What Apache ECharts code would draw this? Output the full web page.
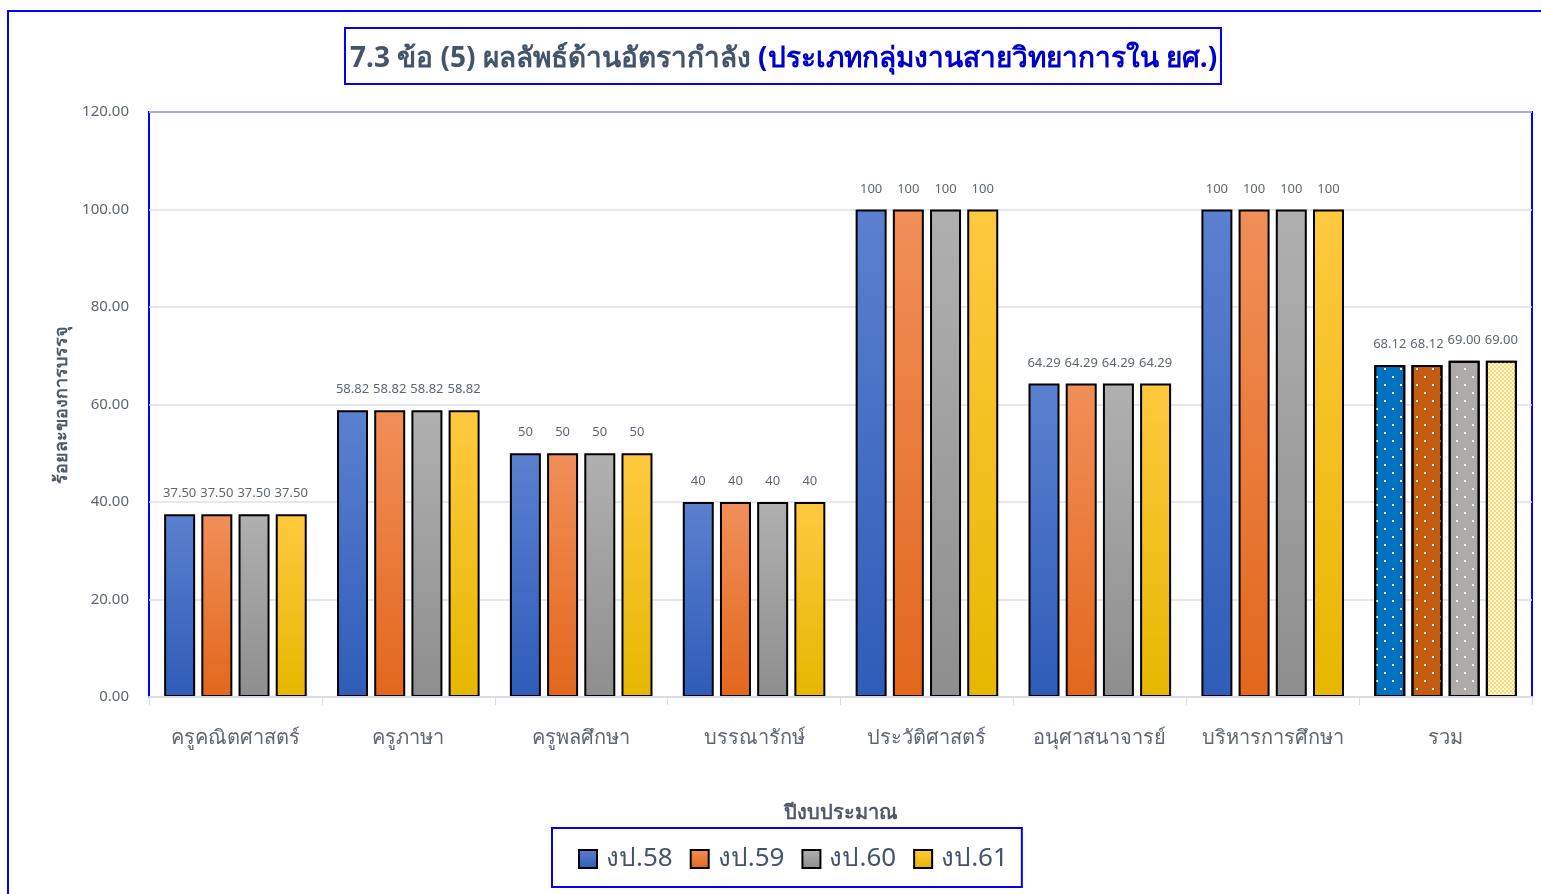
<!DOCTYPE html>
<html>
<head>
<meta charset="utf-8">
<script src="https://cdn.jsdelivr.net/npm/echarts@6/dist/echarts.min.js"></script>
<style>
	html, body { margin: 0; padding: 0; background: #fff; }
	#chart { width: 1541px; height: 894px; }
</style>
</head>
<body>
<div id="chart"></div>
<script>
const categories = ["ครูคณิตศาสตร์", "ครูภาษา", "ครูพลศึกษา", "บรรณารักษ์", "ประวัติศาสตร์", "อนุศาสนาจารย์", "บริหารการศึกษา", "รวม"]
const seriesNames = ["งป.58", "งป.59", "งป.60", "งป.61"]
const fy58 = [37.5, 58.82, 50, 40, 100, 64.29, 100, 68.12]
const fy59 = [37.5, 58.82, 50, 40, 100, 64.29, 100, 68.12]
const fy60 = [37.5, 58.82, 50, 40, 100, 64.29, 100, 69.0]
const fy61 = [37.5, 58.82, 50, 40, 100, 64.29, 100, 69.0]
// decimals shown in the data labels, per category
const labelDecimals = [2, 2, 0, 0, 0, 2, 0, 2]
const yTicks = [0, 20, 40, 60, 80, 100, 120]

const font = "'Noto Sans', 'DejaVu Sans', sans-serif"
const textGray = "#5f6673"

const grad = (top, bottom) => ({
	type: "linear", x: 0, y: 0, x2: 0, y2: 1,
	colorStops: [{ offset: 0, color: top }, { offset: 1, color: bottom }],
})

const barColors = [
	grad("#5b80cf", "#2e5cb8"),
	grad("#f18f59", "#e2671c"),
	grad("#b0b0b0", "#8e8e8e"),
	grad("#ffc93f", "#e6b700"),
]

const dots = {
	symbol: "rect", symbolSize: 1, color: "rgba(255,255,255,0.9)",
	dashArrayX: [[2, 14], [0, 8, 2, 6]], dashArrayY: [2, 6],
}
const checker = {
	symbol: "rect", symbolSize: 1, color: "rgba(255,255,255,0.75)",
	dashArrayX: [[2, 2], [0, 2, 2, 0]], dashArrayY: [2, 0],
}
// total group uses pattern fills
const totalStyles = [
	{ color: "#0070c0", decal: dots },
	{ color: "#c55a11", decal: dots },
	{ color: "#aeaaaa", decal: dots },
	{ color: "#ffdc73", decal: checker },
]

const allValues = [fy58, fy59, fy60, fy61]

const chart = echarts.init(document.getElementById("chart"))

chart.setOption({
	textStyle: { fontFamily: font },
	animation: false,
	graphic: [
		{
			type: "rect",
			shape: { x: 8, y: 11, width: 1700, height: 1000 },
			style: { fill: "none", stroke: "#0000ff", lineWidth: 2 },
			silent: true,
		},
	],
	title: {
		left: 345,
		top: 28,
		text: "{a|7.3 ข้อ (5) ผลลัพธ์ด้านอัตรากำลัง }{b|(ประเภทกลุ่มงานสายวิทยาการใน ยศ.)}",
		borderColor: "#0000ff",
		borderWidth: 2,
		padding: [17, 4, 11, 5],
		textStyle: {
			rich: {
				a: { fontSize: 28, fontWeight: "bold", color: "#44546a", fontFamily: font },
				b: { fontSize: 28, fontWeight: "bold", color: "#0000cc", fontFamily: font },
			},
		},
	},
	legend: {
		data: seriesNames,
		left: 552,
		top: 828,
		orient: "horizontal",
		borderColor: "#0000ff",
		borderWidth: 2,
		padding: [18, 14, 15, 26],
		icon: "rect",
		itemWidth: 18,
		itemHeight: 18,
		itemGap: 17,
		itemStyle: { borderColor: "#000", borderWidth: 2 },
		textStyle: { fontSize: 26, color: "#44546a", fontFamily: font, padding: [0, 0, 0, 4] },
	},
	grid: {
		left: 149,
		right: 9,
		top: 112,
		bottom: 197,
		show: true,
		borderColor: "#0000ff",
		borderWidth: 2,
		backgroundColor: "transparent",
	},
	xAxis: {
		type: "category",
		data: categories,
		z: 5,
		name: "ปีงบประมาณ",
		nameLocation: "middle",
		nameGap: 106,
		nameTextStyle: { fontSize: 20, fontWeight: "bold", color: "#505a68" },
		axisLine: { lineStyle: { color: "#d9dce6", width: 2 } },
		axisTick: { show: true, length: 8, lineStyle: { color: "#d9dce6" } },
		axisLabel: { interval: 0, fontSize: 20, color: textGray, margin: 31 },
	},
	yAxis: {
		type: "value",
		min: yTicks[0],
		max: yTicks[yTicks.length - 1],
		interval: yTicks[1] - yTicks[0],
		name: "ร้อยละของการบรรจุ",
		nameLocation: "middle",
		nameGap: 78,
		nameTextStyle: { fontSize: 18, fontWeight: "bold", color: "#505a68" },
		axisLine: { show: false },
		axisLabel: { fontSize: 15, color: textGray, margin: 20, formatter: (v) => v.toFixed(2) },
		splitLine: { lineStyle: { color: "#dfe1e6", width: 1.5 } },
	},
	series: seriesNames.map((name, si) => ({
		name: name,
		type: "bar",
		barWidth: 31,
		barGap: "20%",
		itemStyle: { color: barColors[si], borderColor: "#000", borderWidth: 2 },
		label: {
			show: true,
			position: "top",
			distance: 14,
			fontSize: 13,
			color: textGray,
			formatter: (p) => p.value.toFixed(labelDecimals[p.dataIndex]),
		},
		data: allValues[si].map((v, i) =>
			i === categories.length - 1
				? { value: v, itemStyle: { color: totalStyles[si].color, decal: totalStyles[si].decal, borderColor: "#000", borderWidth: 2 } }
				: v
		),
	})),
})

window.addEventListener("resize", () => chart.resize())
</script>
</body>
</html>
